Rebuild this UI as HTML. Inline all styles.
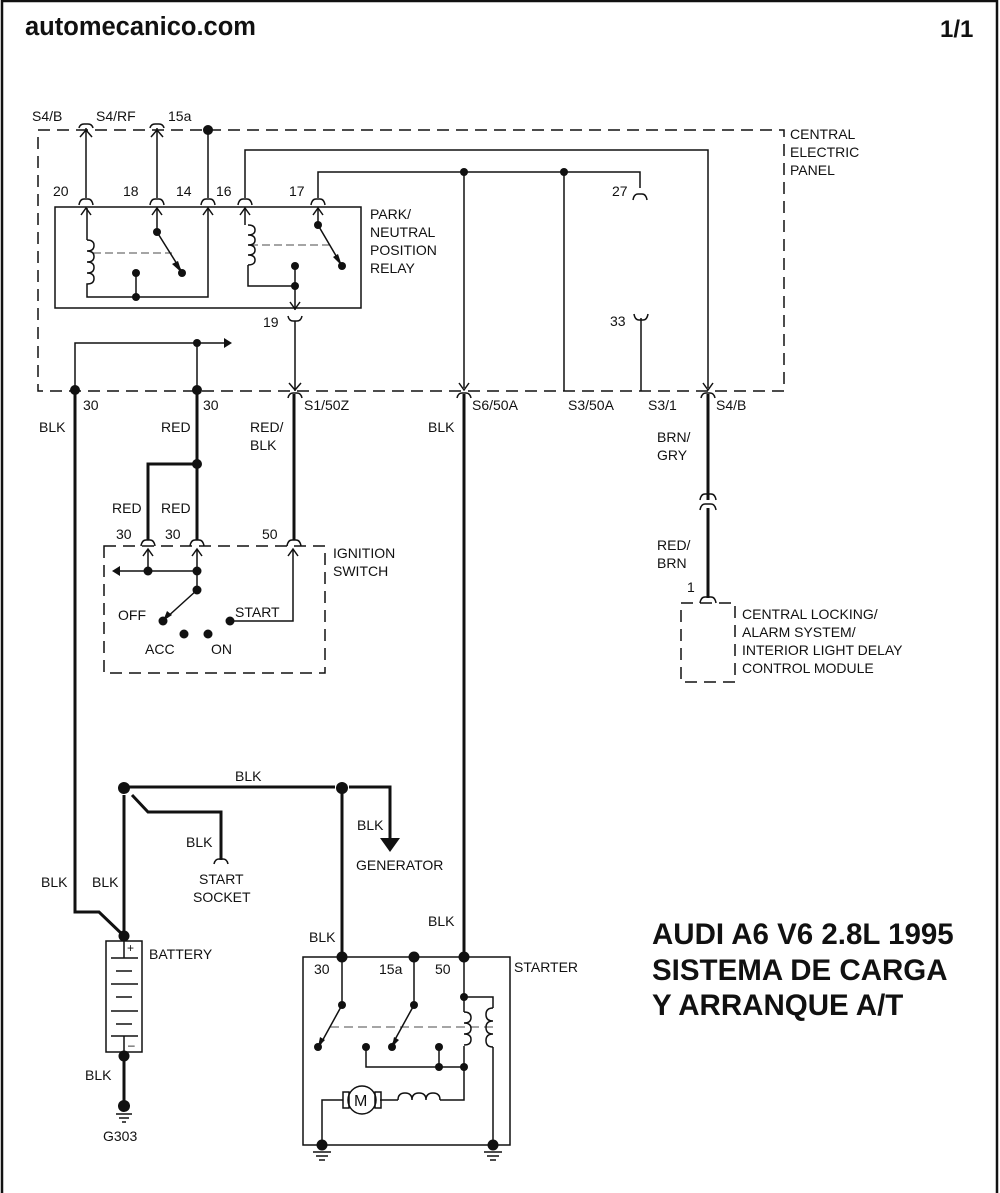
<!DOCTYPE html>
<html><head><meta charset="utf-8"><style>
html,body{margin:0;padding:0;background:#fff;}
svg{display:block;}
text{font-family:"Liberation Sans",Arial,sans-serif;font-size:14px;fill:#111;}
.t{font-weight:bold;font-size:29.5px;}
</style></head><body>
<svg width="1000" height="1193" viewBox="0 0 1000 1193" xmlns="http://www.w3.org/2000/svg">
<g fill="none" stroke="#111" stroke-linecap="butt">
<path d="M2,1193 V1 H997 V1193" stroke-width="2.5"/>
<rect x="38" y="130" width="746" height="261" stroke-width="1.5" stroke-dasharray="12,7"/>
<rect x="55" y="207" width="306" height="101" stroke-width="1.5"/>
<g stroke-width="1.5">
<path d="M86,128 V198 M157,128 V198 M208,130 V198"/>
<path d="M245,198 V150 H708 V388"/>
<path d="M318,198 V172 H640 V188 M464,172 V388 M564,172 V391"/>
<path d="M641,318 V391"/>
<path d="M79,128 Q80,124 84,124 H88 Q92,124 93,128 M150,128 Q151,124 155,124 H159 Q163,124 164,128"/>
<path d="M80,137 L86,130 L92,137 M151,137 L157,130 L163,137"/>
<path d="M79,205 Q80,199 84,199 H88 Q92,199 93,205 M150,205 Q151,199 155,199 H159 Q163,199 164,205 M201,205 Q202,199 206,199 H210 Q214,199 215,205 M238,205 Q239,199 243,199 H247 Q251,199 252,205 M311,205 Q312,199 316,199 H320 Q324,199 325,205 M633,200 Q634,194 638,194 H642 Q646,194 647,200"/>
<path d="M634,314 Q635,320 639,320 H643 Q647,320 648,314"/>
<path d="M81,215 L86,208 L91,215 M152,215 L157,208 L162,215 M203,215 L208,208 L213,215 M240,215 L245,208 L250,215 M313,215 L318,208 L323,215"/>
<path d="M87,208 V240 M87,285 V297 H208 V208"/>
<path d="M87,240 q7,0 7,5.5 t-7,5.5 q7,0 7,5.5 t-7,5.5 q7,0 7,5.5 t-7,5.5 q7,0 7,5.5 t-7,5.5 q0,0 0,1"/>
<path d="M136,297 V273"/>
<path d="M157,208 V232 L182,272"/>
<path d="M245,208 V225 M248,265 V286 H295 V266 M295,286 V310"/>
<path d="M248,225 q7,0 7,5 t-7,5 q7,0 7,5 t-7,5 q7,0 7,5 t-7,5 q7,0 7,5 t-7,5"/>
<path d="M318,208 V225 L342,266"/>
<path d="M290,302 L295,309 L300,302"/>
<path d="M288,316 Q289,321 293,321 H297 Q301,321 302,316"/>
<path d="M295,321 V391"/>
<path d="M289,383 L295,390 L301,383 M459,383 L464,390 L469,383 M703,383 L708,390 L713,383"/>
</g>
<path d="M93,253 H172 M250,245 H330" stroke-width="0.8" stroke-dasharray="8,4"/>
<g stroke-width="1.5">
<path d="M288,398 Q289,393 293,393 H297 Q301,393 302,398 M457,398 Q458,393 462,393 H466 Q470,393 471,398 M701,398 Q702,393 706,393 H710 Q714,393 715,398"/>
</g>
<path d="M75,391 V343 H225 M197,343 V391" stroke-width="1.5"/>
<g stroke-width="3">
<path d="M75,391 V912 H99 L124,936"/>
<path d="M197,391 V540 M197,464 H148 V540"/>
<path d="M294,394 V540"/>
<path d="M464,394 V957"/>
<path d="M708,394 V500 M708,508 V598"/>
<path d="M124,787 H335 M349,787 H390 V838"/>
<path d="M132,795 L148,812 H221 V860"/>
<path d="M124,795 V936 M124,1056 V1105"/>
<path d="M342,787 V957"/>
</g>
<g stroke-width="1.5">
<path d="M700,500 Q701,494 705,494 H711 Q715,494 716,500 M700,510 Q701,504 705,504 H711 Q715,504 716,510"/>
<path d="M700,603 Q701,597 705,597 H711 Q715,597 716,603"/>
<path d="M214,864 Q215,859 219,859 H223 Q227,859 228,864"/>
<path d="M141,546 Q142,540 146,540 H150 Q154,540 155,546 M190,546 Q191,540 195,540 H199 Q203,540 204,546 M287,546 Q288,540 292,540 H296 Q300,540 301,546"/>
<path d="M143,556 L148,549 L153,556 M192,556 L197,549 L202,556 M288,556 L293,549 L298,556"/>
</g>
<rect x="104" y="546" width="221" height="127" stroke-width="1.5" stroke-dasharray="12,7"/>
<g stroke-width="1.5">
<path d="M148,549 V571 M197,549 V590 M197,571 H118"/>
<path d="M197,590 L165,619"/>
<path d="M230,621 H293 V549"/>
<rect x="681" y="603" width="54" height="79" stroke-dasharray="12,7"/>
</g>
<rect x="106" y="941" width="36" height="111" stroke-width="1.5"/>
<g stroke-width="1.5">
<path d="M124,941 V958 M111,958 H138 M116,971 H132 M111,984 H138 M116,997 H132 M111,1011 H138 M116,1024 H132 M111,1036 H138 M124,1036 V1052"/>
<path d="M116,1114 H132 M119,1118 H129 M122,1122 H126"/>
</g>
<rect x="303" y="957" width="207" height="188" stroke-width="1.5"/>
<g stroke-width="1.5">
<path d="M342,957 V1005 L320,1045 M414,957 V1005 L392,1045"/>
<path d="M366,1047 V1067 H464 M439,1047 V1067"/>
<path d="M464,957 V1012 M464,1046 V1100 H440 M398,1100 H380"/>
<path d="M464,1012 q7,0 7,5.5 t-7,5.5 q7,0 7,5.5 t-7,5.5 q7,0 7,5.5 t-7,5.5"/>
<path d="M464,997 H493 V1008 M493,1047 V1145"/>
<path d="M493,1008 q-7,0 -7,6.5 t7,6.5 q-7,0 -7,6.5 t7,6.5 q-7,0 -7,6.5 t7,6.5"/>
<path d="M398,1100 q0,-7 7,-7 t7,7 q0,-7 7,-7 t7,7 q0,-7 7,-7 t7,7"/>
<circle cx="362" cy="1100" r="14"/>
<rect x="343" y="1092" width="6" height="16"/><rect x="375" y="1092" width="6" height="16"/>
<path d="M343,1100 H322 V1145"/>
<path d="M313,1152 H331 M316,1156 H328 M319,1160 H325 M484,1152 H502 M487,1156 H499 M490,1160 H496"/>
</g>
<path d="M330,1027 H498" stroke-width="0.8" stroke-dasharray="9,5"/>
</g>
<g fill="#111">
<circle cx="208" cy="130" r="5"/>
<circle cx="157" cy="232" r="4"/><circle cx="182" cy="273" r="4"/>
<circle cx="136" cy="273" r="4"/><circle cx="136" cy="297" r="4"/>
<circle cx="318" cy="225" r="4"/><circle cx="342" cy="266" r="4"/>
<circle cx="295" cy="266" r="4"/><circle cx="295" cy="286" r="4"/>
<circle cx="464" cy="172" r="4"/><circle cx="564" cy="172" r="4"/>
<circle cx="197" cy="343" r="4"/>
<circle cx="75" cy="390" r="5"/><circle cx="197" cy="390" r="5"/>
<circle cx="197" cy="464" r="5"/>
<circle cx="148" cy="571" r="4.5"/><circle cx="197" cy="571" r="4.5"/><circle cx="197" cy="590" r="4.5"/>
<circle cx="163" cy="621" r="4.5"/><circle cx="184" cy="634" r="4.5"/><circle cx="208" cy="634" r="4.5"/><circle cx="230" cy="621" r="4.5"/>
<circle cx="124" cy="788" r="6"/><circle cx="342" cy="788" r="6"/>
<circle cx="124" cy="936" r="5.5"/><circle cx="124" cy="1056" r="5.5"/><circle cx="124" cy="1106" r="6"/>
<circle cx="342" cy="957" r="5.5"/><circle cx="414" cy="957" r="5.5"/><circle cx="464" cy="957" r="5.5"/>
<circle cx="342" cy="1005" r="4"/><circle cx="414" cy="1005" r="4"/>
<circle cx="318" cy="1047" r="4"/><circle cx="392" cy="1047" r="4"/><circle cx="366" cy="1047" r="4"/><circle cx="439" cy="1047" r="4"/>
<circle cx="439" cy="1067" r="4"/><circle cx="464" cy="1067" r="4"/><circle cx="464" cy="997" r="4"/>
<circle cx="322" cy="1145" r="5.5"/><circle cx="493" cy="1145" r="5.5"/>
<path d="M232,343 L224,338 L224,348 Z"/>
<path d="M112,571 L120,566 L120,576 Z"/>
<path d="M380,838 H400 L390,852 Z"/>
<path d="M182,273 L172,264 L178,261 Z"/>
<path d="M342,266 L333,257 L338,254 Z"/>
<path d="M163,621 L167,611 L172,615 Z"/>
<path d="M318,1047 L320,1037 L325,1040 Z"/><path d="M392,1047 L394,1037 L399,1040 Z"/>
</g>
<text x="25" y="35" style="font-weight:bold;font-size:25.5px">automecanico.com</text>
<text x="940" y="37" style="font-weight:bold;font-size:24px">1/1</text>
<text x="32" y="121">S4/B</text><text x="96" y="121">S4/RF</text><text x="168" y="121">15a</text>
<text x="53" y="196">20</text><text x="123" y="196">18</text><text x="176" y="196">14</text><text x="216" y="196">16</text><text x="289" y="196">17</text>
<text x="612" y="196">27</text><text x="610" y="326">33</text><text x="263" y="327">19</text>
<text x="370" y="219">PARK/</text><text x="370" y="237">NEUTRAL</text><text x="370" y="255">POSITION</text><text x="370" y="273">RELAY</text>
<text x="790" y="139">CENTRAL</text><text x="790" y="157">ELECTRIC</text><text x="790" y="175">PANEL</text>
<text x="83" y="410">30</text><text x="203" y="410">30</text><text x="304" y="410">S1/50Z</text><text x="472" y="410">S6/50A</text><text x="568" y="410">S3/50A</text><text x="648" y="410">S3/1</text><text x="716" y="410">S4/B</text>
<text x="39" y="432">BLK</text><text x="161" y="432">RED</text><text x="250" y="432">RED/</text><text x="250" y="450">BLK</text><text x="428" y="432">BLK</text>
<text x="657" y="442">BRN/</text><text x="657" y="460">GRY</text><text x="657" y="550">RED/</text><text x="657" y="568">BRN</text><text x="687" y="592">1</text>
<text x="742" y="619">CENTRAL LOCKING/</text><text x="742" y="637">ALARM SYSTEM/</text><text x="742" y="655">INTERIOR LIGHT DELAY</text><text x="742" y="673">CONTROL MODULE</text>
<text x="112" y="513">RED</text><text x="161" y="513">RED</text>
<text x="116" y="539">30</text><text x="165" y="539">30</text><text x="262" y="539">50</text>
<text x="333" y="558">IGNITION</text><text x="333" y="576">SWITCH</text>
<text x="118" y="620">OFF</text><text x="235" y="617">START</text><text x="145" y="654">ACC</text><text x="211" y="654">ON</text>
<text x="235" y="781">BLK</text><text x="357" y="830">BLK</text><text x="356" y="870">GENERATOR</text>
<text x="186" y="847">BLK</text><text x="199" y="884">START</text><text x="193" y="902">SOCKET</text>
<text x="41" y="887">BLK</text><text x="92" y="887">BLK</text><text x="428" y="926">BLK</text><text x="309" y="942">BLK</text>
<text x="149" y="959">BATTERY</text><text x="85" y="1080">BLK</text><text x="103" y="1141">G303</text>
<text x="127" y="952" style="font-size:12px">+</text><text x="128" y="1049" style="font-size:12px">–</text>
<text x="314" y="974">30</text><text x="379" y="974">15a</text><text x="435" y="974">50</text><text x="514" y="972">STARTER</text>
<text x="354" y="1106" style="font-size:16px">M</text>
<text class="t" x="652" y="944">AUDI A6 V6 2.8L 1995</text>
<text class="t" x="652" y="980">SISTEMA DE CARGA</text>
<text class="t" x="652" y="1015">Y ARRANQUE A/T</text>
</svg>
</body></html>
